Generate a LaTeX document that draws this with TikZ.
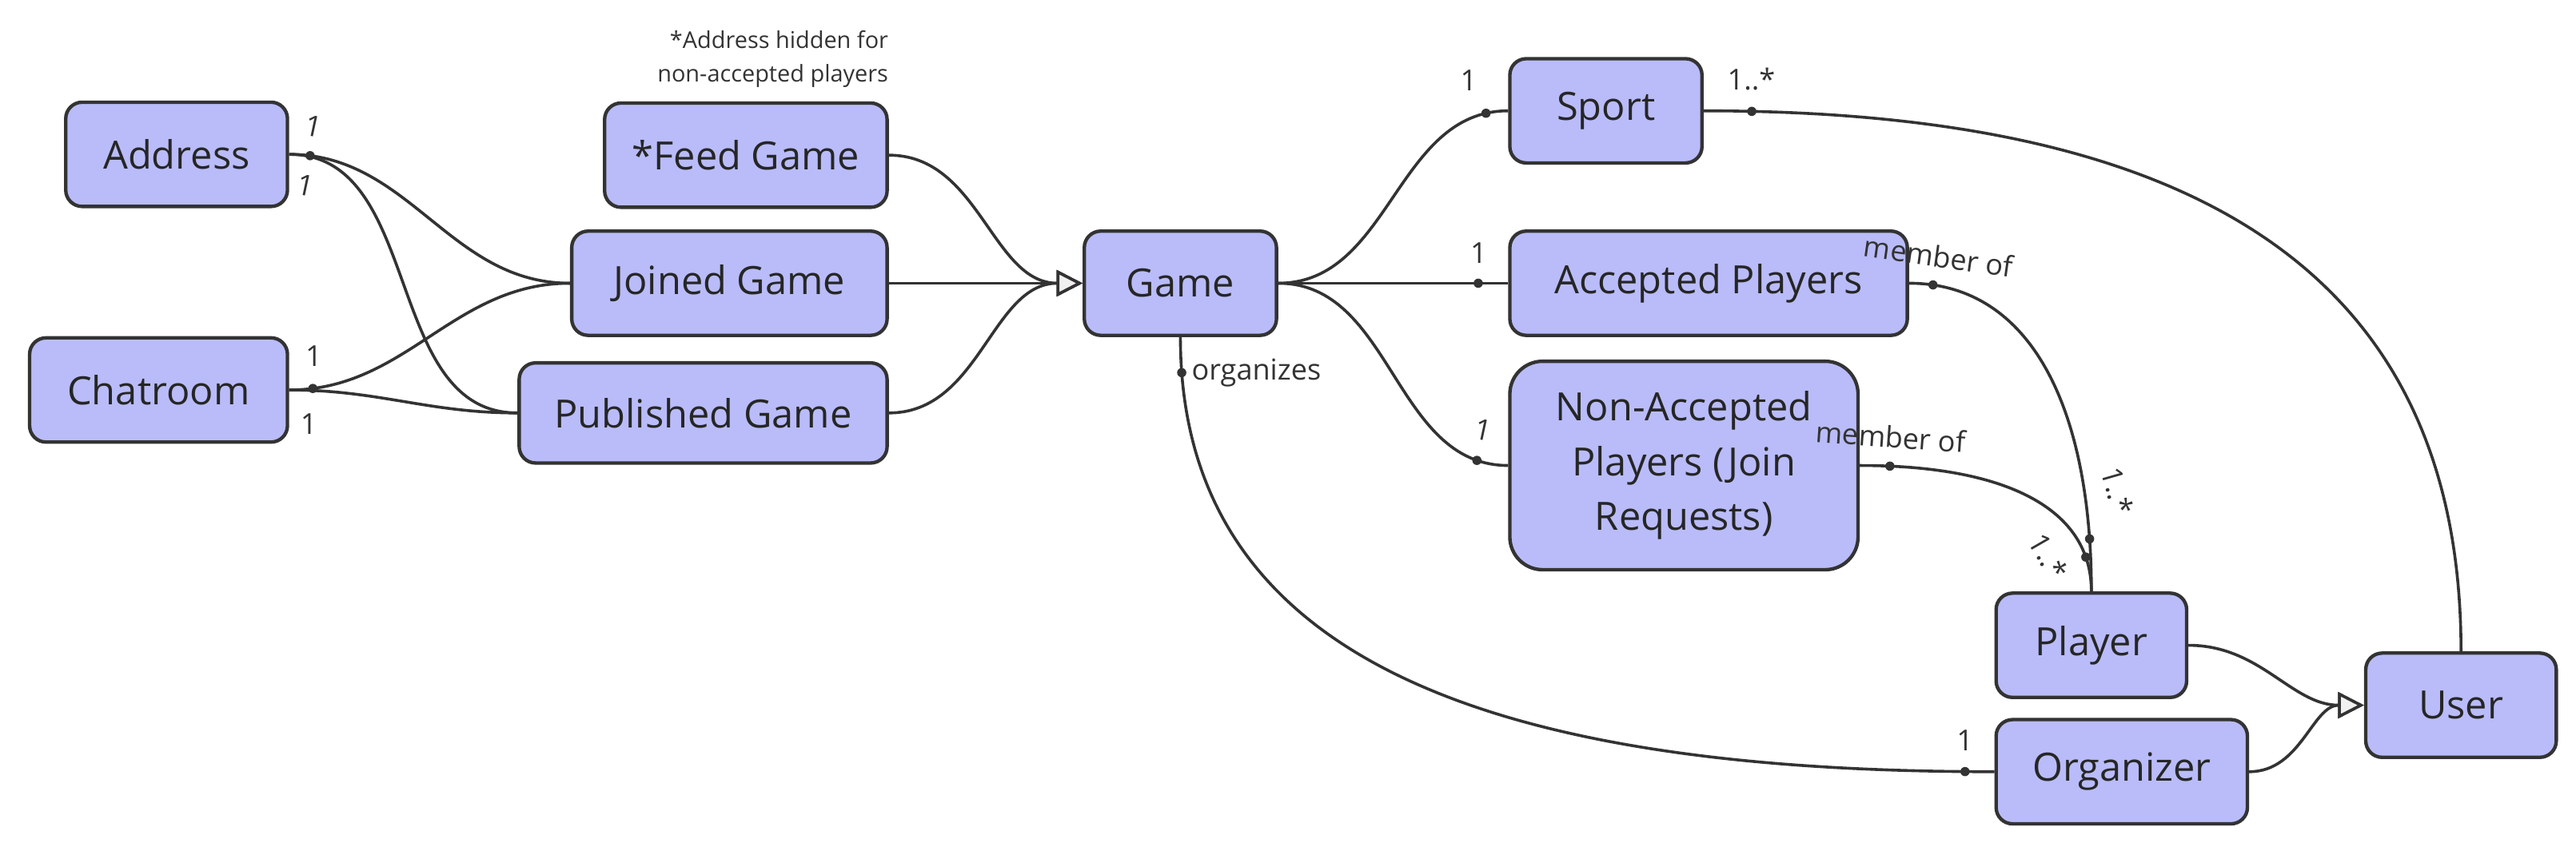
\documentclass[tikz,border=0pt]{standalone}
\usepackage{fontspec}
\setmainfont{Open Sans}
\usetikzlibrary{arrows.meta}

\definecolor{boxfill}{RGB}{185,188,249}
\definecolor{linegray}{RGB}{51,51,51}
\definecolor{tipfill}{RGB}{240,240,240}

\begin{document}
\begin{tikzpicture}[x=0.02cm, y=-0.02cm,
    entity/.style={draw=linegray, line width=1.2pt, fill=boxfill, rounded corners=0.2cm,
        minimum height=1.27cm, inner sep=0pt, align=center, text=black!85,
        font=\fontsize{13.5}{19}\selectfont},
    link/.style={draw=linegray, line width=1pt},
    gen/.style={link, -{Triangle[length=9pt, width=9pt, fill=tipfill]}},
    dotm/.style={circle, fill=linegray, inner sep=0pt, minimum size=3.2pt},
    mult/.style={inner sep=0pt, text=linegray, font=\fontsize{10}{12}\selectfont},
    hint/.style={inner sep=0pt, text=linegray, align=right, font=\fontsize{8}{11.4}\selectfont}]
    \useasboundingbox (0,0) rectangle (1568,513);

    % classes
    \node[entity, minimum width=2.7cm] (address) at (107.5,94) {Address};
    \node[entity, minimum width=3.14cm] (chatroom) at (96.5,237.5) {Chatroom};
    \node[entity, minimum width=3.44cm] (feed) at (454,94.5) {*Feed Game};
    \node[entity, minimum width=3.84cm] (joined) at (444,172.5) {Joined Game};
    \node[entity, minimum width=4.48cm, minimum height=1.22cm] (published) at (428,251.5) {Published Game};
    \node[entity, minimum width=2.34cm] (game) at (718.5,172.5) {Game};
    \node[entity, minimum width=2.34cm] (sport) at (977.5,67.5) {Sport};
    \node[entity, minimum width=4.84cm] (accepted) at (1040,172.5) {Accepted Players};
    \node[entity, minimum width=4.24cm, minimum height=2.54cm, rounded corners=0.4cm] (nonacc) at (1025,283.5) {Non-Accepted\\Players (Join\\Requests)};
    \node[entity, minimum width=2.32cm] (player) at (1273,393) {Player};
    \node[entity, minimum width=3.06cm] (organizer) at (1291.5,470) {Organizer};
    \node[entity, minimum width=2.32cm] (user) at (1498,429.5) {User};

    \node[hint, anchor=east] (hidden) at (541,36) {*Address hidden for\\non-accepted players};

    % address and chatroom
    \draw[link] (address.east) to[out=0, in=180] node[dotm, pos=0.06] (dotad) {} (joined.west);
    \draw[link] (address.east) to[out=0, in=180] (published.west);
    \draw[link] (chatroom.east) to[out=0, in=180] node[dotm, pos=0.07] (dotch) {} (joined.west);
    \draw[link] (chatroom.east) to[out=0, in=180] (published.west);

    % generalisation of game
    \draw[gen] (feed.east) to[out=0, in=180] (game.west);
    \draw[gen] (joined.east) -- (game.west);
    \draw[gen] (published.east) to[out=0, in=180] (game.west);

    % game associations
    \draw[link] (game.east) to[out=0, in=180] node[dotm, pos=0.93] (dotsp) {} (sport.west);
    \draw[link] (game.east) -- node[dotm, pos=0.87] (dotac) {} (accepted.west);
    \draw[link] (game.east) to[out=0, in=180] node[dotm, pos=0.9] (dotna) {} (nonacc.west);
    \draw[link] (game.south) .. controls +(0,200) and +(-300,0) .. (organizer.west)
        node[dotm, pos=0.037] (dotgo) {} node[dotm, pos=0.98] (dotor) {};

    % sport and players
    \draw[link] (sport.east) .. controls +(300,0) and +(0,-230) .. (user.north)
        node[dotm, pos=0.033] (dotus) {};
    \draw[link] (accepted.east) .. controls +(75,0) and +(0,-110) .. (player.north)
        node[dotm, pos=0.067] (dotam) {} node[dotm, pos=0.9] (dotap) {};
    \draw[link] (nonacc.east) .. controls +(90,0) and +(0,-50) .. (player.north)
        node[dotm, pos=0.07] (dotnm) {} node[dotm, pos=0.85] (dotnp) {};

    % generalisation of user
    \draw[gen] (player.east) to[out=0, in=180] (user.west);
    \draw[gen] (organizer.east) to[out=0, in=180] (user.west);

    % multiplicities and roles
    \node[mult, rotate=-12] (mad1) at (191,77) {1};
    \node[mult, rotate=-12] (mad2) at (186,113) {1};
    \node[mult] (mch1) at (191,217) {1};
    \node[mult] (mch2) at (188,258) {1};
    \node[mult] (msp1) at (894,49) {1};
    \node[mult] (msp2) at (1066,48) {1..*};
    \node[mult] (mac1) at (900,154) {1};
    \node[mult, rotate=-12] (mna1) at (903,262) {1};
    \node[mult, rotate=-8] (racc) at (1180,156) {member of};
    \node[mult, rotate=-4] (rnac) at (1151,266) {member of};
    \node[mult, rotate=-74] (mpl1) at (1289,299) {1..*};
    \node[mult, rotate=-60] (mpl2) at (1247,339) {1..*};
    \node[mult, anchor=west] (rorg) at (725,227) {organizes};
    \node[mult] (mor1) at (1196,451) {1};
\end{tikzpicture}
\end{document}
